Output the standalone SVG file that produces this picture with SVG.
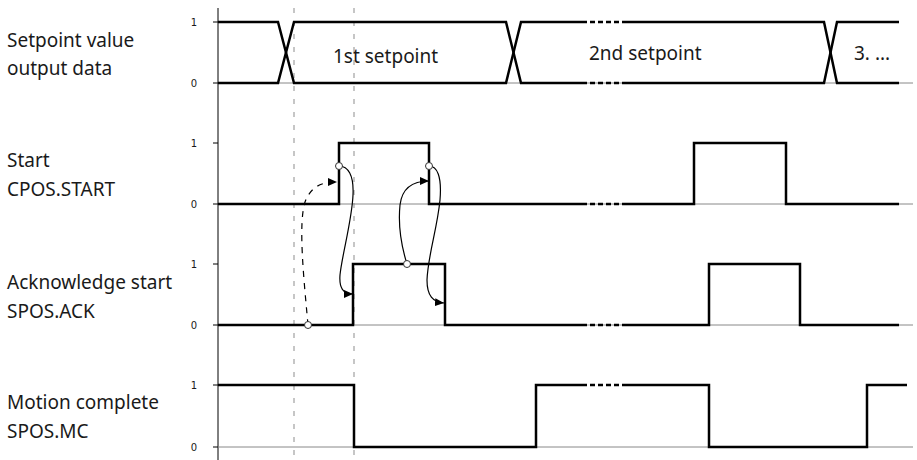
<svg xmlns="http://www.w3.org/2000/svg" width="917" height="460" viewBox="0 0 917 460">
<style>
.lbl{font-family:"Noto Sans","Open Sans",sans-serif;font-size:19px;fill:#1a1a1a}
.tick{font-family:"DejaVu Sans","Liberation Sans",sans-serif;font-size:10px;fill:#1a1a1a;text-anchor:middle}
.sig{fill:none;stroke:#000;stroke-width:2.5;stroke-linejoin:miter}
.sigd{fill:none;stroke:#000;stroke-width:2.5;stroke-dasharray:5,3}
.base{stroke:#888;stroke-width:1}
.vd{stroke:#b4b4b4;stroke-width:1.5;stroke-dasharray:5,8}
.ax{stroke:#000;stroke-width:1}
.con{fill:none;stroke:#000;stroke-width:1.2}
.dot{fill:#fff;stroke:#333;stroke-width:1}
</style>
<defs>
<marker id="ah" markerUnits="userSpaceOnUse" markerWidth="10" markerHeight="9" refX="9" refY="4" orient="auto">
<path d="M0,0 L9,4 L0,8 z" fill="#000"/>
</marker>
</defs>
<rect width="917" height="460" fill="#fff"/>
<g id="grid">
<line class="vd" x1="294" y1="8" x2="294" y2="460"/>
<line class="vd" x1="354" y1="8" x2="354" y2="460"/>
<line class="ax" x1="218" y1="8" x2="218" y2="460"/>
<line class="base" x1="218" y1="83" x2="913" y2="83"/>
<line class="base" x1="218" y1="204" x2="913" y2="204"/>
<line class="base" x1="218" y1="325" x2="913" y2="325"/>
<line class="base" x1="218" y1="447" x2="913" y2="447"/>
<g class="ax">
<line x1="213" y1="22" x2="218" y2="22"/><line x1="213" y1="83" x2="218" y2="83"/>
<line x1="213" y1="143" x2="218" y2="143"/><line x1="213" y1="204" x2="218" y2="204"/>
<line x1="213" y1="264" x2="218" y2="264"/><line x1="213" y1="325" x2="218" y2="325"/>
<line x1="213" y1="385" x2="218" y2="385"/><line x1="213" y1="447" x2="218" y2="447"/>
</g>
<text class="tick" x="194" y="25.5">1</text><text class="tick" x="194" y="86.5">0</text>
<text class="tick" x="194" y="146.5">1</text><text class="tick" x="194" y="207.5">0</text>
<text class="tick" x="194" y="267.5">1</text><text class="tick" x="194" y="328.5">0</text>
<text class="tick" x="194" y="388.5">1</text><text class="tick" x="194" y="450.5">0</text>
</g>
<g id="setpoint">
<text class="lbl" x="7" y="47">Setpoint value</text>
<text class="lbl" x="7" y="75">output data</text>
<path class="sig" d="M218,22 H278 L294,83 H506 L521,22 H582 M627,22 H824 L837,83 H899"/>
<path class="sig" d="M218,83 H278 L294,22 H506 L521,83 H582 M627,83 H824 L837,22 H899"/>
<path class="sigd" d="M582,22 H627 M582,83 H627"/>
<text class="lbl" x="333" y="63">1st setpoint</text>
<text class="lbl" x="589" y="60">2nd setpoint</text>
<text class="lbl" x="854" y="60">3. ...</text>
</g>
<g id="start">
<text class="lbl" x="7" y="167">Start</text>
<text class="lbl" x="7" y="196">CPOS.START</text>
<path class="sig" d="M218,204 H339 V143 H429 V204 H582 M627,204 H694 V143 H786 V204 H899"/>
<path class="sigd" d="M582,204 H627"/>
</g>
<g id="ack">
<text class="lbl" x="7" y="289">Acknowledge start</text>
<text class="lbl" x="7" y="318">SPOS.ACK</text>
<path class="sig" d="M218,325 H353 V264 H445 V325 H582 M627,325 H709 V264 H800 V325 H899"/>
<path class="sigd" d="M582,325 H627"/>
</g>
<g id="mc">
<text class="lbl" x="7" y="409">Motion complete</text>
<text class="lbl" x="7" y="438">SPOS.MC</text>
<path class="sig" d="M218,385 H354 V447 H536 V385 H582 M627,385 H709 V447 H867 V385 H907"/>
<path class="sigd" d="M582,385 H627"/>
</g>
<g id="connectors">
<path class="con" stroke-dasharray="6,6" d="M308,325 C304,280 298,225 305,202 C311,186 322,182 337,182" marker-end="url(#ah)"/>
<path class="con" d="M339,166 C348,166 354,175 353,195 C352,220 342,255 340,275 C339,288 343,294 353,294" marker-end="url(#ah)"/>
<path class="con" d="M407,264 C401,245 398,225 400,205 C402,188 412,181 429,181" marker-end="url(#ah)"/>
<path class="con" d="M429,166 C437,166 442,176 440,200 C437,230 428,255 427,280 C427,296 433,302 444,303" marker-end="url(#ah)"/>
<circle class="dot" cx="339" cy="166" r="3.5"/>
<circle class="dot" cx="429" cy="166" r="3.5"/>
<circle class="dot" cx="407" cy="264" r="3.5"/>
<circle class="dot" cx="308" cy="325" r="3.5"/>
</g>
</svg>
